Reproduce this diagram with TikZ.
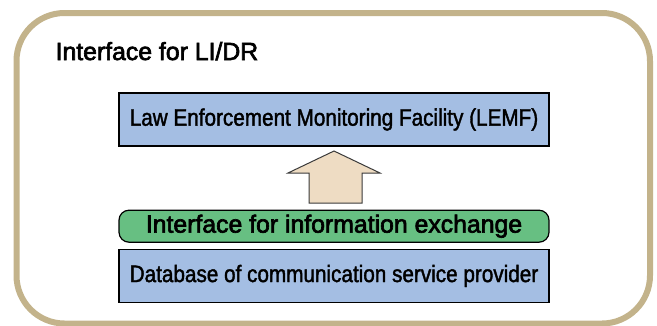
\documentclass[tikz,border=0pt]{standalone}
\usepackage{fontspec}
\setmainfont{Liberation Sans}
\newfontfamily\narrowsans[FakeStretch=0.87, FakeBold=1.6]{Liberation Sans}
\newfontfamily\medsans[FakeBold=2.6]{Liberation Sans}
\usetikzlibrary{positioning}
\definecolor{cframe}{HTML}{C3B38B}
\definecolor{cblue}{HTML}{A4BEE3}
\definecolor{cgreen}{HTML}{67BF82}
\definecolor{cbeige}{HTML}{EEDCC3}
\definecolor{cedge}{HTML}{3A3A3A}
\tikzset{
  every picture/.style={line width=1.2pt},
  layer/.style={draw=black, fill=#1, minimum width=430pt, minimum height=53pt, inner sep=0pt,
    font=\narrowsans\fontsize{23.8}{28}\selectfont},
  layer/.default=cblue,
  pill/.style={draw=black, fill=cgreen, rounded corners=10pt, minimum width=430pt, minimum height=32pt,
    inner sep=0pt, font=\medsans\fontsize{24.8}{30}\selectfont},
  frame/.style={draw=cframe, line width=6pt, rounded corners=48pt},
  uparrow/.style={draw=cedge, fill=cbeige, line width=1pt, line join=miter},
  title/.style={font=\medsans\fontsize{24.8}{30}\selectfont, anchor=base west, inner sep=0pt},
}
\begin{document}
\begin{tikzpicture}[x=1pt, y=-1pt]
  \useasboundingbox (0,0) rectangle (657,325);
  \draw[frame] (16.5,13) rectangle (650,323.5);
  \node[title] (head) at (55,60) {Interface for LI/DR};
  % stack of layers
  \node[layer] (lemf) at (334,119.5) {Law Enforcement Monitoring Facility (LEMF)};
  \node[pill, below=63pt of lemf] (iface) {Interface for information exchange};
  \node[layer, below=6pt of iface] (db) {Database of communication service provider};
  % block arrow up to the LEMF
  \draw[uparrow] (309,203) -- (309,173) -- (288,173) -- (334,151) -- (380,173) -- (362,173) -- (362,203) -- cycle;
\end{tikzpicture}
\end{document}
